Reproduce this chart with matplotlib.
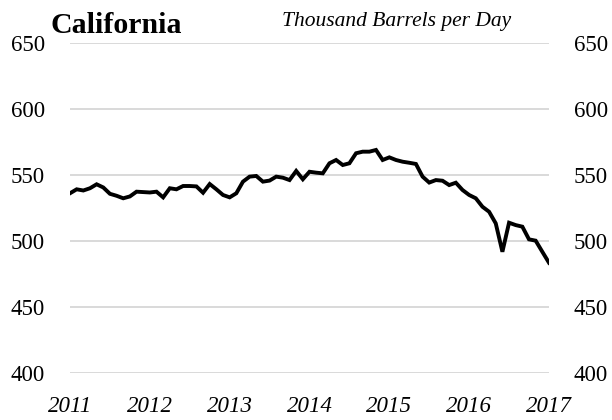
import matplotlib.pyplot as plt
import numpy as np

# California crude production, thousand barrels per day, monthly Jan 2011 - Jan 2017
production = [536.4, 539.4, 538.5, 540.2, 543.2, 540.8, 536.0, 534.5, 532.6, 534.0, 537.6, 537.3,
              537.0, 537.6, 533.3, 540.2, 539.4, 541.9, 541.9, 541.6, 536.8, 543.4, 539.4, 535.1,
              533.3, 536.4, 545.2, 549.0, 549.5, 545.2, 546.0, 549.0, 548.2, 546.4, 553.3, 547.0,
              552.7, 552.0, 551.5, 559.1, 561.6, 557.8, 559.1, 566.7, 567.9, 567.9, 569.2, 561.6,
              563.6, 561.6, 560.3, 559.5, 558.6, 549.0, 544.5, 546.4, 545.9, 542.6, 544.4, 538.9,
              535.1, 532.6, 526.2, 522.4, 513.6, 492.1, 514.1, 512.3, 511.1, 501.5, 500.5, 492.1,
              483.8]
years = ['2011', '2012', '2013', '2014', '2015', '2016', '2017']
yticks = [400, 450, 500, 550, 600, 650]

plt.rcParams['font.family'] = ['Liberation Serif', 'DejaVu Serif']

fig = plt.figure(figsize=(6.12, 4.2), dpi=100)
ax = fig.add_axes([0.1144, 0.111, 0.7826, 0.786])

x = np.arange(len(production))
ax.plot(x, production, color='black', lw=2.8, solid_joinstyle='miter', zorder=3)

ax.set_xlim(0, len(production) - 1)
ax.set_ylim(400, 650)
ax.set_yticks(yticks)
ax.set_yticklabels([str(v) for v in yticks], fontsize=16.5)
ax.set_xticks(np.arange(len(years)) * 12)
ax.set_xticklabels(years, fontsize=16.5, style='italic')

ax.grid(axis='y', color='#d9d9d9', lw=1.4)
ax.set_axisbelow(True)
for s in ax.spines.values():
    s.set_visible(False)
ax.tick_params(axis='y', length=0, pad=18, labelright=True, labelleft=True)
ax.tick_params(axis='x', length=0, pad=16)

fig.text(0.0827, 0.921, 'California', fontsize=21.5, fontweight='bold', va='baseline')
fig.text(0.461, 0.938, 'Thousand Barrels per Day', fontsize=15.5, style='italic', va='baseline')

fig.savefig('out.png', dpi=100)
